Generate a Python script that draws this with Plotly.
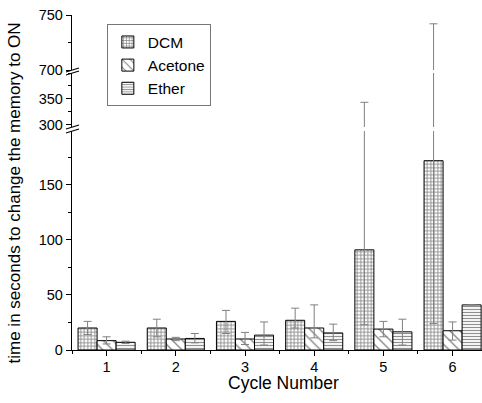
import plotly.graph_objects as go

cycles = [1, 2, 3, 4, 5, 6]
series = ["DCM", "Acetone", "Ether"]
dcm = [20, 20, 26, 27, 91, 172]
dcm_up = [6, 8, 10, 11, 252, 570]
dcm_lo = [6, 8, 11, 7, 68, 148]
acetone = [8.5, 10, 10, 20, 19, 17.5]
acetone_up = [3.5, 1.5, 6, 21, 7, 8]
acetone_lo = [3, 1.5, 5, 9, 7, 8.5]
ether = [7, 10.5, 13.5, 15.5, 16.5, 41]
ether_up = [1, 4.5, 12, 8, 11.5, None]
ether_lo = [1, 4, 9, 7, 12, None]

values = [dcm, acetone, ether]
ups = [dcm_up, acetone_up, ether_up]
los = [dcm_lo, acetone_lo, ether_lo]
patterns = [dict(shape="+", size=3.5, solidity=0.45, fgcolor="#111", bgcolor="white"),
            dict(shape="\\", size=7, solidity=0.2, fgcolor="#111", bgcolor="white"),
            dict(shape="-", size=3, solidity=0.4, fgcolor="#222", bgcolor="white")]

FONT = "Liberation Sans, Arial, sans-serif"
fig = go.Figure()
for yax in ["y", "y2", "y3"]:
    for i, name in enumerate(series):
        fig.add_trace(go.Bar(
            x=cycles, y=values[i], name=name, xaxis="x", yaxis=yax,
            showlegend=(yax == "y"),
            marker=dict(color="white", line=dict(color="black", width=1), pattern=patterns[i]),
            error_y=dict(type="data", array=ups[i], arrayminus=los[i], symmetric=False,
                         color="#808080", thickness=1, width=4),
        ))

H = 335.0
def dom(px_bottom, px_top):
    return [(350 - px_bottom) / H, (350 - px_top) / H]

ax_common = dict(showline=True, linecolor="black", linewidth=1.3, ticks="outside",
                 ticklen=5, tickwidth=1, tickcolor="black", showgrid=False, zeroline=False,
                 anchor="x")

fig.update_layout(
    width=482, height=403,
    margin=dict(l=72, r=0, t=15, b=53),
    paper_bgcolor="white", plot_bgcolor="white",
    barmode="group", bargap=0.175, bargroupgap=0,
    font=dict(family=FONT, color="black", size=14.5),
    xaxis=dict(range=[0.5, 6.425], tickvals=cycles, showline=True, linecolor="black",
               linewidth=1.3, ticks="outside", ticklen=5, tickcolor="black", showgrid=False,
               zeroline=False, anchor="y", ticklabelstandoff=-2),
    yaxis=dict(domain=dom(350, 131), range=[0, 199], tickvals=[0, 50, 100, 150], **ax_common),
    yaxis2=dict(domain=dom(127, 73), range=[295, 400], tickvals=[300, 350], **ax_common),
    yaxis3=dict(domain=dom(70, 15), range=[700, 750], tickvals=[700, 750], **ax_common),
    legend=dict(x=0.085, y=0.972, xanchor="left", yanchor="top", bgcolor="white",
                bordercolor="#777", borderwidth=1, font=dict(family=FONT, size=15.5),
                itemwidth=30, tracegroupgap=0),
)
fig.update_xaxes(tickfont=dict(family=FONT, size=14.5, color="black"),
                 minor=dict(ticks="outside", ticklen=3, dtick=0.5, tick0=0.5, tickcolor="black"))
fig.update_yaxes(tickfont=dict(family=FONT, size=14.5, color="black"))
fig.update_layout(yaxis_minor=dict(ticks="outside", ticklen=3, tickcolor="black", dtick=25, tick0=0),
                  yaxis2_minor=dict(ticks="outside", ticklen=3, tickcolor="black", dtick=25, tick0=300),
                  yaxis3_minor=dict(ticks="outside", ticklen=3, tickcolor="black", dtick=25, tick0=700))

# gaps at the axis breaks
for pb, pt in [(131, 127), (73, 70)]:
    fig.add_shape(type="rect", xref="paper", yref="paper", x0=0.02, x1=1,
                  y0=(350 - pb) / H, y1=(350 - pt) / H, fillcolor="white",
                  line=dict(width=0), layer="above")

# axis-break marks
for ypx in [131, 127, 73, 70]:
    yp = (350 - ypx) / H
    fig.add_shape(type="line", xref="paper", yref="paper", xsizemode="pixel", ysizemode="pixel",
                  xanchor=0, yanchor=yp, x0=-6, x1=7, y0=-2, y1=2,
                  line=dict(color="black", width=1.2))

fig.add_annotation(text="Cycle Number", xref="paper", yref="paper", x=0.515, y=-0.0985,
                   xanchor="center", yanchor="middle", showarrow=False,
                   font=dict(family=FONT, size=17.5, color="black"))
fig.add_annotation(text="time in seconds to change the memory to ON", textangle=-90,
                   xref="paper", yref="paper", x=-0.14, y=0.469, xanchor="center", yanchor="middle",
                   showarrow=False, font=dict(family=FONT, size=17, color="black"))

fig.write_html("out.html", config={"displayModeBar": False},
               post_script="document.body.style.margin='0';document.body.style.overflow='hidden';")
